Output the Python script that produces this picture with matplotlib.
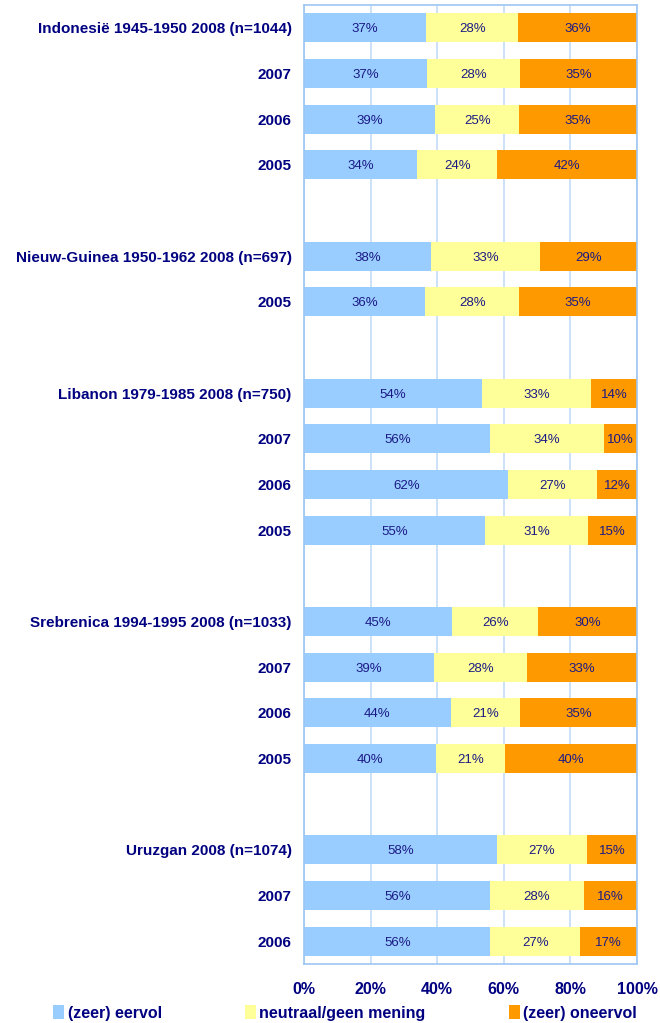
import matplotlib
matplotlib.use('Agg')
import matplotlib.pyplot as plt
from matplotlib.patches import Patch
import numpy as np

plt.rcParams['font.family'] = ['Liberation Sans', 'DejaVu Sans']

# rows from top to bottom; None marks an empty slot between groups
labels = ['Indonesië 1945-1950 2008 (n=1044)', '2007', '2006', '2005', None,
          'Nieuw-Guinea 1950-1962 2008 (n=697)', '2005', None,
          'Libanon 1979-1985 2008 (n=750)', '2007', '2006', '2005', None,
          'Srebrenica 1994-1995 2008 (n=1033)', '2007', '2006', '2005', None,
          'Uruzgan 2008 (n=1074)', '2007', '2006']

eervol   = [37, 37, 39, 34, None, 38, 36, None, 54, 56, 62, 55, None, 45, 39, 44, 40, None, 58, 56, 56]
neutraal = [28, 28, 25, 24, None, 33, 28, None, 33, 34, 27, 31, None, 26, 28, 21, 21, None, 27, 28, 27]
oneervol = [36, 35, 35, 42, None, 29, 35, None, 14, 10, 12, 15, None, 30, 33, 35, 40, None, 15, 16, 17]

series = ['(zeer) eervol', 'neutraal/geen mening', '(zeer) oneervol']
colors = ['#99CCFF', '#FFFF99', '#FF9900']
navy = '#000080'

fig = plt.figure(figsize=(6.6, 10.23), dpi=100)
ax = fig.add_axes([304 / 660, 1 - 964 / 1023, 333 / 660, 959 / 1023])

rows = [i for i, l in enumerate(labels) if l is not None]
vals = np.array([[eervol[i], neutraal[i], oneervol[i]] for i in rows], dtype=float)
shares = vals / vals.sum(axis=1, keepdims=True)

left = np.zeros(len(rows))
for k in range(3):
    ax.barh(rows, shares[:, k], left=left, height=0.64, color=colors[k],
            edgecolor='none', zorder=2)
    for r, l0, w, v in zip(rows, left, shares[:, k], vals[:, k]):
        ax.text(l0 + w / 2, r, '%d%%' % v, ha='center', va='center_baseline',
                color='#1A1A85', fontsize=9.5, zorder=3)
    left += shares[:, k]

ax.set_ylim(len(labels) - 0.5, -0.5)
ax.set_xlim(0, 1)
ax.set_yticks(rows)
ax.set_yticklabels([labels[i] for i in rows], fontsize=11, fontweight='bold', color=navy,
                   va='center_baseline')
ax.set_xticks(np.arange(0, 1.01, 0.2))
ax.set_xticklabels(['%d%%' % p for p in range(0, 101, 20)], fontsize=11.5,
                   fontweight='bold', color=navy)
ax.tick_params(axis='both', length=0)
ax.tick_params(axis='y', pad=9)
ax.tick_params(axis='x', pad=13)
ax.grid(axis='x', color='#C4DDF8', linewidth=1.2, zorder=0)
ax.set_axisbelow(True)
for s in ax.spines.values():
    s.set_color('#9DC6F2')
    s.set_linewidth(1.2)

handles = [Patch(facecolor=c, edgecolor='none') for c in colors]
fig.legend(handles, series, loc='center', bbox_to_anchor=(0.5 + 15 / 660, 1 - 1013 / 1023),
           ncol=3, frameon=False, handlelength=0.7, handleheight=0.9,
           handletextpad=0.2, columnspacing=5.2,
           prop={'weight': 'bold', 'size': 11.5})
for t in fig.legends[0].get_texts():
    t.set_color(navy)

fig.savefig('out.png', dpi=100)
